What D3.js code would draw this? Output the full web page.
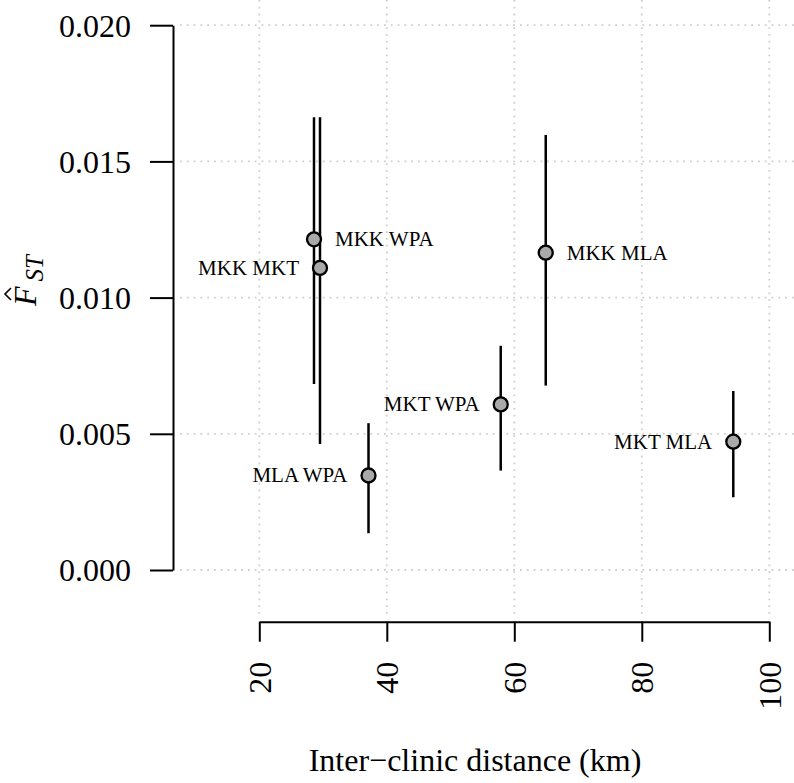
<!DOCTYPE html>
<html>
<head>
<meta charset="utf-8">
<script src="https://cdn.jsdelivr.net/npm/d3@7"></script>
<style>
  html, body { margin: 0; padding: 0; background: #fff; }
  svg { display: block; }
  svg text { font-family: "Liberation Serif", "Times New Roman", serif !important; }
</style>
</head>
<body>
<svg id="chart" width="794" height="783"></svg>
<script>
// ---- data ----
const pairs    = ["MKK WPA", "MKK MKT", "MLA WPA", "MKT WPA", "MKK MLA", "MKT MLA"];
const distance = [28.58, 29.52, 37.13, 57.87, 64.93, 94.35];
const fst      = [0.01214, 0.01109, 0.00347, 0.00608, 0.01165, 0.00471];
const fstLow   = [0.00683, 0.00463, 0.00135, 0.00365, 0.00677, 0.00267];
const fstHigh  = [0.01662, 0.01662, 0.00539, 0.00823, 0.01597, 0.00657];
const labelSide = ["right", "left", "left", "left", "right", "left"];
const xTicks = [20, 40, 60, 80, 100];
const yTicks = [0.000, 0.005, 0.010, 0.015, 0.020];

const svg = d3.select("#chart");
const x = d3.scaleLinear().domain([20, 100]).range([259.3, 769.3]);
const y = d3.scaleLinear().domain([0, 0.020]).range([570, 25.2]);

// grid
const grid = svg.append("g").attr("stroke", "#cfcfcf").attr("stroke-width", 1.8)
  .attr("stroke-dasharray", "1.8,5");
grid.selectAll(".gy").data(yTicks).join("line")
  .attr("x1", 180).attr("x2", 794).attr("y1", d => y(d)).attr("y2", d => y(d));
grid.selectAll(".gx").data(xTicks).join("line")
  .attr("y1", 0).attr("y2", 616).attr("x1", d => x(d)).attr("x2", d => x(d));

// y axis
const yAxis = d3.axisLeft(y).tickValues(yTicks).tickFormat(d3.format(".3f")).tickSize(23).tickSizeOuter(0);
const gy = svg.append("g").attr("transform", "translate(173,0)").call(yAxis)
  .attr("font-family", null).attr("font-size", null);
gy.select(".domain").attr("stroke", "#000").attr("stroke-width", 2);
gy.selectAll(".tick line").attr("stroke", "#000").attr("stroke-width", 2);
gy.selectAll(".tick text").attr("font-size", 32).attr("fill", "#000")
  .attr("x", -42).attr("dy", "0.34em");

// x axis
const xAxis = d3.axisBottom(x).tickValues(xTicks).tickSize(20).tickSizeOuter(0);
const gx = svg.append("g").attr("transform", "translate(0,621.7)").call(xAxis)
  .attr("font-family", null).attr("font-size", null);
gx.select(".domain").attr("stroke", "#000").attr("stroke-width", 2);
gx.selectAll(".tick line").attr("stroke", "#000").attr("stroke-width", 2);
gx.selectAll(".tick text").attr("font-size", 32).attr("fill", "#000")
  .attr("text-anchor", "end")
  .attr("transform", "rotate(-90)")
  .attr("x", -40).attr("y", 0).attr("dy", "0.34em");

// axis titles
svg.append("text").attr("x", 475).attr("y", 771).attr("text-anchor", "middle")
  .attr("font-size", 32).text("Inter\u2212clinic distance (km)");

const yl = svg.append("g").attr("transform", "translate(36,306) rotate(-90)");
const ylt = yl.append("text").attr("font-size", 32).attr("x", 0).attr("y", 0);
ylt.append("tspan").attr("font-style", "italic").text("F");
ylt.append("tspan").attr("font-style", "italic").attr("font-size", 25).attr("dy", 7).attr("dx", 5).text("ST");
yl.append("path").attr("d", "M6,-25 L12,-31 L18,-25").attr("fill", "none").attr("stroke", "#000").attr("stroke-width", 1.6);

// data
const idx = d3.range(pairs.length);
svg.append("g").selectAll("line").data(idx).join("line")
  .attr("x1", i => x(distance[i])).attr("x2", i => x(distance[i]))
  .attr("y1", i => y(fstLow[i])).attr("y2", i => y(fstHigh[i]))
  .attr("stroke", "#000").attr("stroke-width", 2.5);
svg.append("g").selectAll("circle").data(idx).join("circle")
  .attr("cx", i => x(distance[i])).attr("cy", i => y(fst[i])).attr("r", 7)
  .attr("fill", "#a9a9a9").attr("stroke", "#000").attr("stroke-width", 2.3);
svg.append("g").selectAll("text").data(idx).join("text")
  .attr("x", i => x(distance[i]) + (labelSide[i] === "right" ? 21 : -21))
  .attr("y", i => y(fst[i]))
  .attr("dy", "0.33em")
  .attr("text-anchor", i => labelSide[i] === "right" ? "start" : "end")
  .attr("font-size", 21).text(i => pairs[i]);
</script>
</body>
</html>
